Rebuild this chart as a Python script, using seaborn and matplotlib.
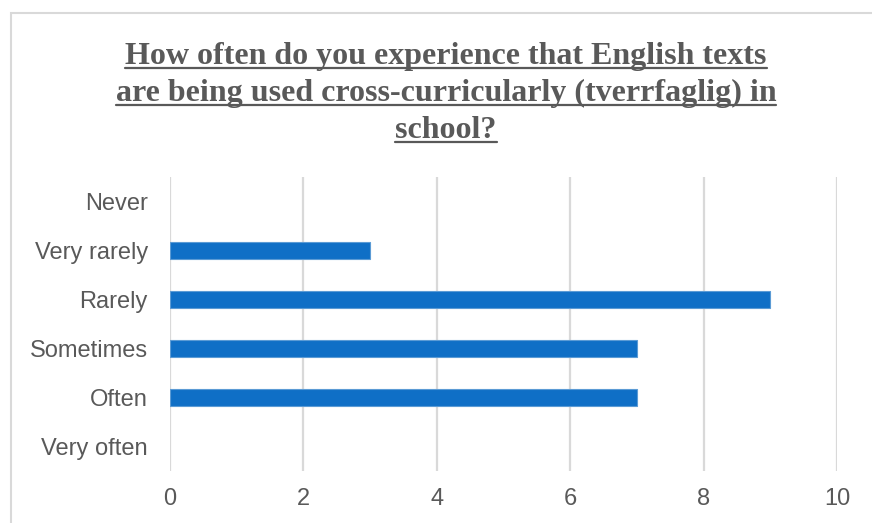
import matplotlib
matplotlib.use("Agg")
import matplotlib.pyplot as plt
from matplotlib.lines import Line2D
from matplotlib.patches import Rectangle
import seaborn as sns
import pandas as pd

categories = ["Never", "Very rarely", "Rarely", "Sometimes", "Often", "Very often"]
counts = [0, 3, 9, 7, 7, 0]
x_ticks = [0, 2, 4, 6, 8, 10]
title_lines = [
    "How often do you experience that English texts",
    "are being used cross-curricularly (tverrfaglig) in",
    "school?",
]

sns.set_theme(style="white")
plt.rcParams["font.family"] = ["Liberation Sans", "DejaVu Sans"]

TEXT = "#595959"
GRID = "#d9d9d9"
BAR = "#0f6fc6"

df = pd.DataFrame({"answer": categories, "count": counts})

W, H, DPI = 872, 523, 100
fig = plt.figure(figsize=(W / DPI, H / DPI), dpi=DPI)
ax = fig.add_axes([170 / W, 1 - 471 / H, 667 / W, 294 / H])

sns.barplot(data=df, x="count", y="answer", order=categories, orient="h",
            color=BAR, width=0.35, edgecolor="#5b9bd5", linewidth=0.8,
            saturation=1, ax=ax)

# empty categories get no visible outline
for p in ax.patches:
    if p.get_width() == 0:
        p.set_linewidth(0)

ax.set_xlim(0, 10)
ax.set_ylim(5.5, -0.5)
ax.set_xticks(x_ticks)
ax.set_xticklabels([str(t) for t in x_ticks])
ax.xaxis.grid(True, color=GRID, linewidth=1.6)
ax.set_axisbelow(True)
for s in ax.spines.values():
    s.set_visible(False)
ax.set_xlabel("")
ax.set_ylabel("")
ax.tick_params(axis="x", length=0, pad=12.5, labelsize=17, labelcolor=TEXT)
ax.tick_params(axis="y", length=0, pad=16, labelsize=17, labelcolor=TEXT)

# chart frame
fig.patches.append(Rectangle((11 / W, -0.1), 1.2, 1 - 13 / H + 0.1,
                             transform=fig.transFigure, fill=False,
                             edgecolor="#d9d9d9", linewidth=1.5))

# underlined, bold serif title
baselines = [64, 101, 138]
fig.canvas.draw()
renderer = fig.canvas.get_renderer()
for line, yb in zip(title_lines, baselines):
    t = fig.text(446 / W, 1 - yb / H, line, ha="center", va="baseline",
                 fontsize=23, fontweight="bold", color=TEXT,
                 family=["Liberation Serif", "DejaVu Serif"])
    bb = t.get_window_extent(renderer=renderer)
    yu = 1 - (yb + 4) / H
    fig.add_artist(Line2D([bb.x0 / W, bb.x1 / W], [yu, yu],
                          transform=fig.transFigure, color=TEXT,
                          linewidth=1.6))

fig.savefig("out.png", dpi=DPI, facecolor="white")
